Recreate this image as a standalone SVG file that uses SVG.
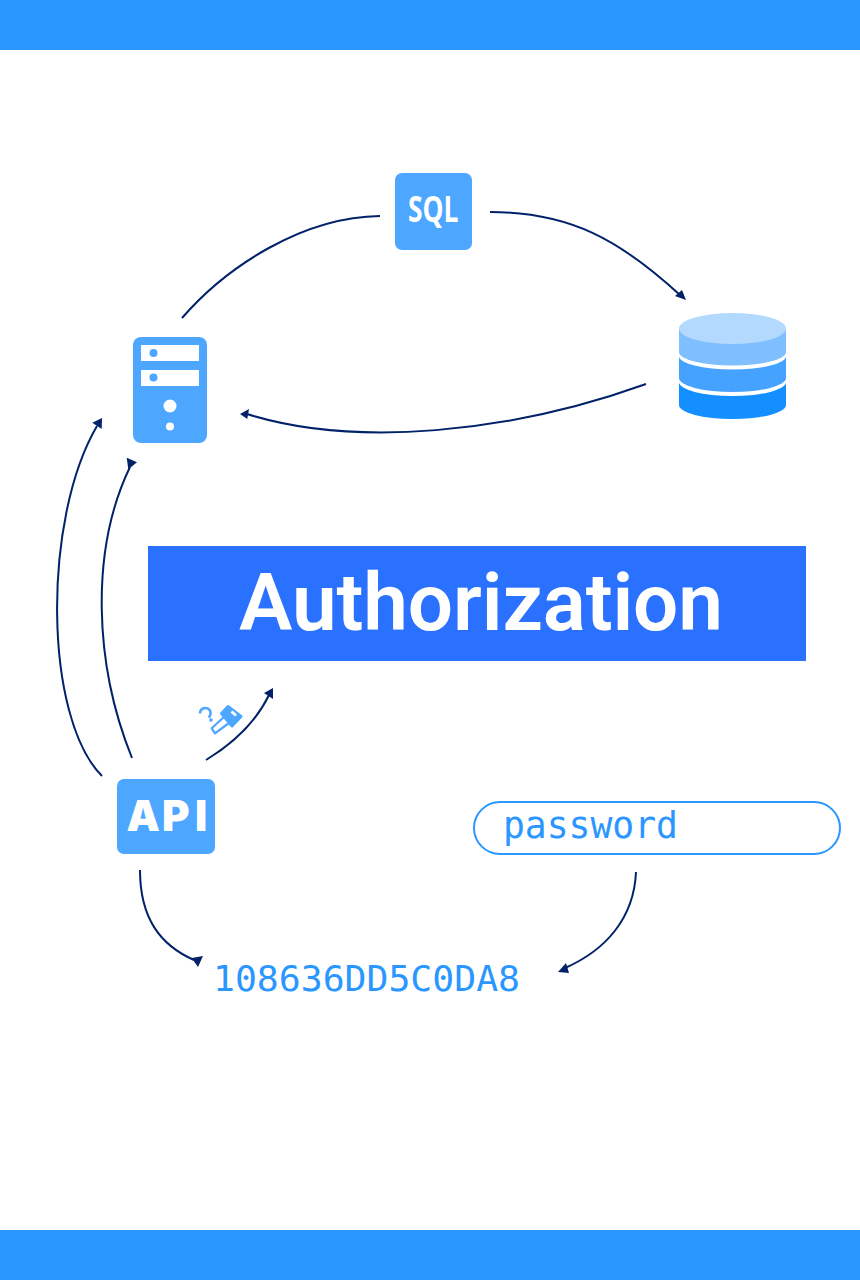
<svg xmlns="http://www.w3.org/2000/svg" width="860" height="1280" viewBox="0 0 860 1280">
<style>
.c{fill:none;stroke:#012269;stroke-width:2}
.h{fill:#012269}
.n{fill:#4da6ff}
.w{fill:#fff}
.m{font-family:"DejaVu Sans Mono",monospace;fill:#2a96ff}
</style>
<rect id="top-bar" width="860" height="50" fill="#2a96ff"/>
<rect id="bottom-bar" y="1230" width="860" height="50" fill="#2a96ff"/>
<g id="connectors">
<path class="c" d="M182 318C228 265 304 217 380 216"/>
<path class="c" d="M490 212C570 212 620 240 680 295"/>
<polygon class="h" points="686,300 675,296 682,290"/>
<path class="c" d="M646 384C510 433 355 448 247 414"/>
<polygon class="h" points="240,414 249,409 247.300,419"/>
<path class="c" d="M102 776C44 718 42 520 97 426"/>
<polygon class="h" points="102,418 92.300,422.700 101.700,429"/>
<path class="c" d="M132 758C94 664 90 550 130 467"/>
<polygon class="h" points="126.700,457.700 137,462.300 128.300,469.300"/>
<path class="c" d="M206 760C232 744 256 722 269 695"/>
<polygon class="h" points="273,688 264,693 273,699"/>
<path class="c" d="M140 870C140 918 160 945 194 960"/>
<polygon class="h" points="191.700,958 203,956 198,967"/>
<path class="c" d="M636 872C634 918 606 950 565 968"/>
<polygon class="h" points="558,972 566,963 569,973"/>
</g>
<g id="sql"><rect class="n" x="395" y="173" width="77" height="77" rx="7"/>
<text x="408" y="222" font-family="'Open Sans',sans-serif" font-weight="700" font-size="35" textLength="50.500" lengthAdjust="spacingAndGlyphs" class="w">SQL</text></g>
<g id="database">
<path d="M679 328V405A53.500 14 0 0 0 786 405V328Z" fill="#148fff"/>
<path d="M679 328V382A53.500 14 0 0 0 786 382V328Z" fill="#fff"/>
<path d="M679 328V378A53.500 14 0 0 0 786 378V328Z" fill="#45a3ff"/>
<path d="M679 328V356A53.500 13.500 0 0 0 786 356V328Z" fill="#fff"/>
<path d="M679 328V352A53.500 13.500 0 0 0 786 352V328Z" fill="#80bfff"/>
<ellipse cx="732.500" cy="328.500" rx="53.500" ry="15.500" fill="#b3d9ff"/>
</g>
<g id="server">
<rect class="n" x="133" y="337" width="74" height="106" rx="8"/>
<rect class="w" x="141" y="345" width="58" height="16"/>
<rect class="w" x="141" y="370" width="58" height="16"/>
<circle class="n" cx="153.500" cy="353" r="4"/>
<circle class="n" cx="153.500" cy="377.500" r="4"/>
<circle class="w" cx="170" cy="406" r="6.500"/>
<circle class="w" cx="170" cy="426.500" r="4"/>
</g>
<g id="title"><rect x="148" y="546" width="658" height="115" fill="#2b71ff"/>
<text x="239" y="630" font-family="Roboto,sans-serif" font-weight="600" font-size="80" textLength="484" lengthAdjust="spacing" fill="#fff">Authorization</text></g>
<g id="key" fill="none" stroke="#4da6ff" stroke-linejoin="round">
<path d="M200 713.500A5.300 5.300 0 1 1 208.500 717.500" stroke-width="2.500"/>
<circle cx="211" cy="720" r="1.800" fill="#4da6ff" stroke="none"/>
<path d="M224 717L211.700 728.300L215 733.300L229 723" stroke-width="2.200" fill="#fff"/>
<path d="M228 706.500L241 716.500L232 726L221.500 713.500Z" fill="#4da6ff" stroke-width="3"/>
<path d="M231.500 711.500L236 715.500" stroke="#fff" stroke-width="3"/>
</g>
<g id="api"><rect class="n" x="117" y="779" width="98" height="75" rx="7"/>
<text x="126.500 162 195" y="831" font-family="Inter,'Open Sans',sans-serif" font-weight="900" font-size="42" class="w">API</text></g>
<g id="password"><rect x="474" y="802" width="366" height="52" rx="26" fill="#fff" stroke="#2a96ff" stroke-width="2"/>
<text class="m" x="503" y="838" font-size="38" textLength="175" lengthAdjust="spacingAndGlyphs">password</text></g>
<text id="hash" class="m" x="213" y="991" font-size="35.500" textLength="307" lengthAdjust="spacingAndGlyphs">108636DD5C0DA8</text>
</svg>
